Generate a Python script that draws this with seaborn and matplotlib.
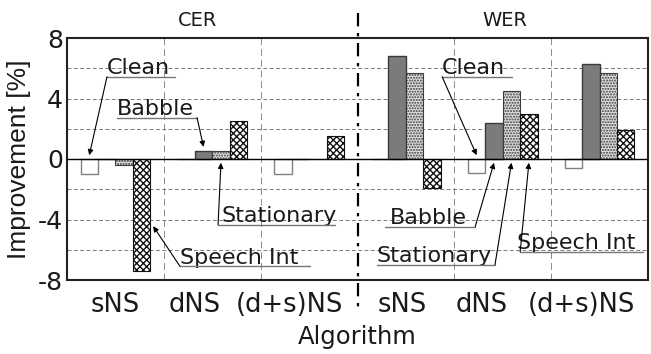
import numpy as np
import pandas as pd
import matplotlib
matplotlib.use("Agg")
import matplotlib.pyplot as plt
import matplotlib.transforms as mtransforms
from matplotlib.lines import Line2D
import seaborn as sns

# ---- data ----
metrics = ["CER", "CER", "CER", "WER", "WER", "WER"]
algorithms = ["sNS", "dNS", "(d+s)NS", "sNS", "dNS", "(d+s)NS"]
conditions = ["Clean", "Babble", "Stationary", "Speech Int"]
clean = [-1.0, 0.0, -1.0, 0.0, -0.9, -0.6]
babble = [0.0, 0.55, 0.0, 6.8, 2.4, 6.3]
stationary = [-0.4, 0.5, 0.0, 5.7, 4.5, 5.7]
speech_int = [-7.4, 2.5, 1.5, -1.9, 3.0, 1.9]
yticks = [-8, -4, 0, 4, 8]

keys = [f"{m} {a}" for m, a in zip(metrics, algorithms)]
rows = []
for cond, vals in zip(conditions, [clean, babble, stationary, speech_int]):
    for k, v in zip(keys, vals):
        rows.append({"key": k, "cond": cond, "val": v})
df = pd.DataFrame(rows)

sns.set_style("white")
plt.rcParams["font.family"] = ["DejaVu Sans"]
plt.rcParams["hatch.linewidth"] = 1.0
TXT = "#1a1a1a"
plt.rcParams["text.color"] = TXT
plt.rcParams["axes.labelcolor"] = TXT
plt.rcParams["xtick.color"] = TXT
plt.rcParams["ytick.color"] = TXT

fig = plt.figure(figsize=(6.51, 3.54), dpi=100)
ax = fig.add_axes([67 / 651, 1 - 280 / 354, 581 / 651, 242 / 354])

sns.barplot(data=df, x="key", y="val", hue="cond", order=keys,
            hue_order=conditions, width=0.72, ax=ax, legend=False,
            errorbar=None, zorder=3)

styles = {
    "Clean": dict(fc="white", ec="#808080", hatch=None, lw=1.0),
    "Babble": dict(fc="#7b7b7b", ec="#3a3a3a", hatch=None, lw=1.0),
    "Stationary": dict(fc="#e0e0e0", ec="#3c3c3c", hatch="......", lw=0.8),
    "Speech Int": dict(fc="white", ec="#111111", hatch="xxxxx", lw=0.8),
}
for cond, cont in zip(conditions, ax.containers):
    st = styles[cond]
    for bar in cont:
        bar.set_facecolor(st["fc"])
        bar.set_edgecolor(st["ec"])
        bar.set_linewidth(st["lw"])
        if st["hatch"]:
            bar.set_hatch(st["hatch"])

ax.set_xlim(-0.5, 5.5)
ax.set_ylim(-8, 8)
ax.set_yticks(yticks)
ax.set_yticklabels([str(t) for t in yticks], fontsize=18)
ax.set_yticks([-6, -2, 2, 6], minor=True)
ax.set_xticks([0.5, 1.5, 3.5, 4.5], minor=True)
# tick label positions (layout)
ax.set_xticks([0.0, 0.82, 1.80, 2.96, 3.78, 4.81])
ax.set_xticklabels(algorithms, fontsize=18.5)
ax.tick_params(axis="both", which="both", length=0)
ax.tick_params(axis="y", pad=3)
ax.tick_params(axis="x", pad=9)

ax.yaxis.grid(True, which="both", color="#7a7a7a", ls=(0, (4, 2.5)), lw=0.7, zorder=0)
ax.xaxis.grid(True, which="minor", color="#8a8a8a", ls=(0, (7, 4)), lw=0.7, zorder=0)
ax.xaxis.grid(False, which="major")
ax.axhline(0, color="black", lw=1.0, zorder=4)

for s in ax.spines.values():
    s.set_color("#222222")
    s.set_linewidth(1.5)

ax.set_xlabel("Algorithm", fontsize=17.5, labelpad=5)
ax.set_ylabel("Improvement [%]", fontsize=19, labelpad=5,
              family=["Liberation Sans", "DejaVu Sans"])

# separator between CER and WER
trans_xfig = mtransforms.blended_transform_factory(ax.transData, fig.transFigure)
sep = Line2D([2.5, 2.5], [0.963, 0.116], transform=trans_xfig, color="black",
             lw=1.6, ls=(0, (6, 3, 1.5, 3)), clip_on=False, zorder=5)
fig.add_artist(sep)

fig.text(0.85, 1 - 21 / 354, "CER", transform=trans_xfig, ha="center",
         va="center", fontsize=14)
fig.text(4.02, 1 - 21 / 354, "WER", transform=trans_xfig, ha="center",
         va="center", fontsize=14)

# annotations: (cond idx, group idx, text x, underline y, ul x0, ul x1, from, target mode)
ann = [
    (0, 0, -0.087, 5.44, -0.087, 0.616, "left", "above"),
    (1, 1, 0.016, 2.73, 0.016, 0.843, "right", "above"),
    (2, 1, 1.10, -4.35, 1.06, 2.27, "left", "below"),
    (3, 0, 0.667, -7.10, 0.667, 2.01, "left", "side"),
    (0, 4, 3.374, 5.44, 3.374, 4.097, "left", "above"),
    (1, 4, 2.837, -4.48, 2.785, 3.715, "right", "below"),
    (2, 4, 2.70, -6.99, 2.70, 3.92, "right", "below"),
    (3, 4, 4.149, -6.13, 4.18, 5.45, "left", "below"),
]
series = [clean, babble, stationary, speech_int]
for ci, gi, tx, uy, ux0, ux1, side, mode in ann:
    bar = ax.containers[ci][gi]
    val = series[ci][gi]
    cx = bar.get_x() + bar.get_width() / 2
    if mode == "above":
        target = (cx, max(val, 0) + 0.25)
    elif mode == "below":
        target = (cx, min(val, 0) - 0.25)
    else:
        target = (bar.get_x() + bar.get_width() + 0.03, val * 0.6)
    ax.text(tx, uy + 0.18, conditions[ci], fontsize=16, ha="left",
            va="baseline", zorder=6)
    ax.plot([ux0, ux1], [uy, uy], color="#777777", lw=1.0, zorder=6,
            clip_on=False)
    start = (ux0, uy) if side == "left" else (ux1, uy)
    ax.annotate("", xy=target, xytext=start,
                arrowprops=dict(arrowstyle="-|>", lw=0.8, color="black",
                                mutation_scale=8, shrinkA=0, shrinkB=0),
                zorder=7)

fig.savefig("out.png", dpi=100)
